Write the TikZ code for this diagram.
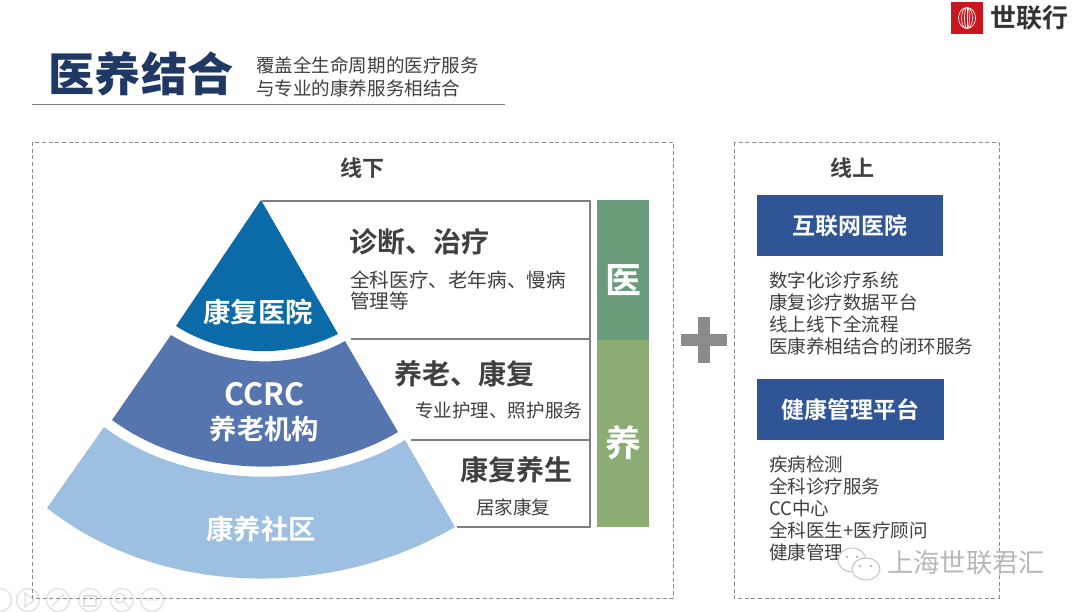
\documentclass[tikz,border=0pt]{standalone}
\usepackage{fontspec}
\setmainfont{Noto Sans CJK SC}[BoldFont={Noto Sans CJK SC Bold}]
\newfontfamily\blackcjk{Noto Sans CJK SC Black}
\definecolor{titleblue}{HTML}{1F3864}
\definecolor{txtgray}{HTML}{404040}
\definecolor{framegray}{HTML}{7F7F7F}
\definecolor{dashgray}{HTML}{8C8C8C}
\definecolor{tierA}{HTML}{0B6BA8}
\definecolor{tierB}{HTML}{5575AE}
\definecolor{tierC}{HTML}{9DC0E2}
\definecolor{barA}{HTML}{6A9B7B}
\definecolor{barB}{HTML}{8BAD74}
\definecolor{boxblue}{HTML}{2F5597}
\definecolor{logored}{HTML}{C8171E}
\definecolor{faintgray}{HTML}{E2E2E2}
\tikzset{
  x=0.75pt,y=-0.75pt,
  head/.style={font=\bfseries\fontsize{21}{25}\selectfont,text=txtgray,inner sep=0pt},
  sub/.style={font=\fontsize{13.9}{16}\selectfont,text=txtgray,inner sep=0pt,align=left},
  tierlabel/.style={font=\bfseries\fontsize{20.5}{25.5}\selectfont,text=white,inner sep=0pt,align=center},
  panelhead/.style={font=\bfseries\fontsize{16.5}{19}\selectfont,text=txtgray,inner sep=0pt},
  panel/.style={draw=dashgray,densely dashed,line width=0.5pt},
  frameline/.style={draw=framegray,line width=2.2pt},
  barlabel/.style={font=\bfseries\fontsize{27}{30}\selectfont,text=white,inner sep=0pt},
  bluebox/.style={fill=boxblue,draw=none,minimum width=140pt,minimum height=46pt,inner sep=0pt,font=\bfseries\fontsize{17.2}{20}\selectfont,text=white},
  list/.style={font=\fontsize{13.9}{16.5}\selectfont,text=txtgray,inner sep=0pt,align=left,anchor=north west},
  ctrl/.style={draw=faintgray,line width=1pt},
  bubble/.style={draw=black!28,fill=white,line width=0.6pt},
}
\begin{document}
\begin{tikzpicture}
\useasboundingbox (0,0) rectangle (1080,611);
\fill[white] (0,0) rectangle (1080,611);
% logo
\fill[logored] (951,2) rectangle (983,34);
\draw[white,line width=0.5pt] (967,8) -- (967,28);
\foreach \rx in {2.5,5.5,8.5}{\draw[white,line width=0.5pt] (967,18) ellipse (\rx pt*0.75 and 10.5pt*0.75);}
\node[inner sep=0pt,font=\bfseries\fontsize{19.5}{22}\selectfont,text=black!80] (brand) at (1029,18) {世联行};
% title
\node[inner sep=0pt,font=\blackcjk\fontsize{34.6}{38}\selectfont,text=titleblue] (title) at (141,74) {医养结合};
\node[inner sep=0pt,font=\fontsize{13.9}{17.2}\selectfont,text=txtgray,align=left,anchor=west] (subtitle) at (256,76.5) {覆盖全生命周期的医疗服务\\与专业的康养服务相结合};
\draw[framegray,line width=0.7pt] (32,104) -- (505,104);
% faint slide-show controls
\foreach \cx in {0,28,58,90,122,152}{\draw[ctrl] (\cx,600) circle (8.6pt);}
\draw[ctrl] (25,593) -- (34,600) -- (25,607) -- cycle;
\draw[ctrl] (52,606) -- (64,594);
\draw[ctrl] (84,596) rectangle (96,606);
\draw[ctrl] (120,598) circle (3.6pt) (124,602) -- (129,607);
\foreach \dx in {-4,0,4}{\fill[faintgray] (152+\dx,600) circle (1pt);}
% panels
\draw[panel] (32,142) rectangle (673,598);
\draw[panel] (734,142) rectangle (999,598);
\node[panelhead] (offline) at (362,168) {线下};
\node[panelhead] (online) at (852,168) {线上};
% fan
\fill[tierA] (261,200) -- (338,334) .. controls (290,358) and (226,358) .. (176,326) -- cycle;
\fill[tierB] (171,335) .. controls (224,368) and (294,370) .. (345,341) -- (398,432) .. controls (320,479) and (195,481) .. (112,420) -- cycle;
\fill[tierC] (104,427) .. controls (190,492) and (325,490) .. (405,440) -- (455,527) .. controls (330,600) and (160,597) .. (47,508) -- cycle;
\node[tierlabel] (t1) at (258,312) {康复医院};
\node[tierlabel] (t2) at (264.5,412.5) {{\fontsize{23}{25.5}\selectfont CCRC}\\养老机构};
\node[tierlabel] (t3) at (261,529.5) {康养社区};
% frame
\coordinate (ftl) at (262,201);
\coordinate (ftr) at (590,201);
\coordinate (fbr) at (590,527);
\coordinate (fbl) at (457,527);
\draw[frameline] (ftl) -- (ftr) -- (fbr) -- (fbl);
\coordinate (m1l) at (351,339);
\coordinate (m1r) at (590,339);
\coordinate (m2l) at (411,440);
\coordinate (m2r) at (590,440);
\draw[frameline] (m1l) -- (m1r);
\draw[frameline] (m2l) -- (m2r);
% texts in frame
\node[head,anchor=west] (h1) at (349,242) {诊断、治疗};
\node[sub,anchor=north west,font=\fontsize{14.7}{16}\selectfont] (s1) at (350,270.5) {全科医疗、老年病、慢病\\管理等};
\node[head,anchor=west] (h2) at (394,374) {养老、康复};
\node[sub,anchor=west] (s2) at (415,410.5) {专业护理、照护服务};
\node[head,anchor=west] (h3) at (460,470) {康复养生};
\node[sub,anchor=west] (s3) at (476,507) {居家康复};
% bars
\fill[barA] (597,200) rectangle (649,340);
\fill[barB] (597,340) rectangle (649,527);
\node[barlabel] (b1) at (623,280) {医};
\node[barlabel] (b2) at (623,443) {养};
% plus
\fill[dashgray] (698,317) rectangle (710,363);
\fill[dashgray] (681,334) rectangle (727,346);
% right
\node[bluebox] (r1) at (850,225.5) {互联网医院};
\node[list] (l1) at (769,272) {数字化诊疗系统\\康复诊疗数据平台\\线上线下全流程\\医康养相结合的闭环服务};
\node[bluebox] (r2) at (850.5,409.5) {健康管理平台};
\node[list] (l2) at (769,456) {疾病检测\\全科诊疗服务\\CC中心\\全科医生+医疗顾问\\健康管理};
% watermark
\draw[bubble] (852,560) ellipse (10.5pt and 9pt);
\fill[black!28] (847,557) circle (1pt) (857,557) circle (1pt);
\draw[bubble] (866,569) ellipse (10.5pt and 8.2pt);
\fill[black!28] (860,566) circle (1pt) (871,566) circle (1pt);
\node[inner sep=0pt,font=\fontsize{19.75}{24}\selectfont,text=black!28] (wm) at (966,563) {上海世联君汇};
\end{tikzpicture}
\end{document}
